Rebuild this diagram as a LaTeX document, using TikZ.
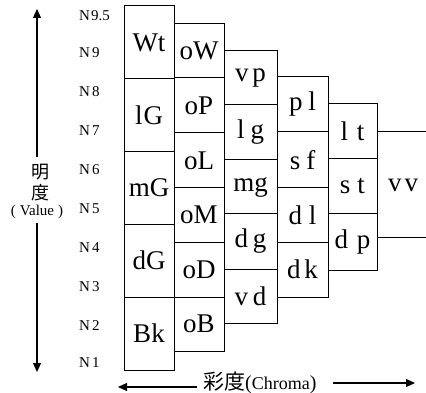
\documentclass[tikz,border=0pt]{standalone}
\usepackage{fontspec}
\setmainfont{Liberation Serif}
\newfontfamily\cjk{Noto Sans CJK JP}
\usetikzlibrary{arrows.meta}
\tikzset{
  cellbox/.style={draw, line width=1pt, inner sep=0pt, font=\fontsize{27}{27}\selectfont},
  nlab/.style={anchor=west, inner sep=0pt, font=\fontsize{15}{15}\selectfont},
  axis/.style={line width=1.1pt, -{Triangle[length=9pt,width=8pt]}},
  sep/.style={line width=1pt}
}
\newcommand\mycell[6]{%
  \node[cellbox, minimum width={(#3-#2)*1pt}, minimum height={(#5-#4)*1pt}] (#1) at ({(#2+#3)/2},{(#4+#5)/2}) {#6};}
\newcommand\gapp[1]{\hspace{#1pt}}
\begin{document}
\begin{tikzpicture}[x=1pt,y=-1pt]
\useasboundingbox (0,0) rectangle (426,393);
% column 1
\mycell{wt}{124}{174}{6}{79}{Wt}
\mycell{lG}{124}{174}{79}{152}{l\gapp{1}G}
\mycell{mG}{124}{174}{152}{224}{mG}
\mycell{dG}{124}{174}{224}{297}{dG}
\mycell{bk}{124}{174}{297}{370}{Bk}
% column 2
\mycell{oW}{174}{224}{24}{78}{oW}
\mycell{oP}{174}{224}{78}{133}{oP}
\mycell{oL}{174}{224}{133}{188}{oL}
\mycell{oM}{174}{224}{188}{242}{oM}
\mycell{oD}{174}{224}{242}{297}{oD}
\mycell{oB}{174}{224}{297}{351}{oB}
% column 3
\mycell{vp}{224}{277}{51}{105}{v\gapp{4}p}
\mycell{lg}{224}{277}{105}{160}{l\gapp{6}g}
\mycell{mg}{224}{277}{160}{214}{mg}
\mycell{dg}{224}{277}{214}{269}{d\gapp{5}g}
\mycell{vd}{224}{277}{269}{323}{v\gapp{5}d}
% column 4
\mycell{pl}{277}{328}{77}{132}{p\gapp{6}l}
\mycell{sf}{277}{328}{132}{188}{s\gapp{6}f}
\mycell{dl}{277}{328}{188}{242}{d\gapp{7}l}
\mycell{dk}{277}{328}{242}{297}{d\gapp{4}k}
% column 5
\mycell{lt}{328}{377}{104}{159}{l\gapp{9}t}
\mycell{st}{328}{377}{159}{214}{s\gapp{7}t}
\mycell{dp}{328}{377}{214}{270}{d\gapp{9}p}
% vv
\coordinate (v1) at (377,132);
\coordinate (v1e) at (426,132);
\coordinate (v2) at (377,237);
\coordinate (v2e) at (426,237);
\draw[sep] (v1) -- (v1e);
\draw[sep] (v2) -- (v2e);
\node[cellbox, draw=none] (vv) at (403,185) {v\gapp{3}v};
% N labels
\node[nlab] (n95) at (79,16) {N\gapp{1}9.5};
\node[nlab] (n9) at (79,53) {N\gapp{2}9};
\node[nlab] (n8) at (79,92) {N\gapp{2}8};
\node[nlab] (n7) at (79,131) {N\gapp{2}7};
\node[nlab] (n6) at (79,170) {N\gapp{2}6};
\node[nlab] (n5) at (79,209) {N\gapp{2}5};
\node[nlab] (n4) at (79,248) {N\gapp{2}4};
\node[nlab] (n3) at (79,287) {N\gapp{2}3};
\node[nlab] (n2) at (79,326) {N\gapp{2}2};
\node[nlab] (n1) at (79,363) {N\gapp{2}1};
% value axis
\node[inner sep=0pt, font=\cjk\fontsize{18}{18}\selectfont] (ming) at (40,172) {明};
\node[inner sep=0pt, font=\cjk\fontsize{18}{18}\selectfont] (du) at (40,193) {度};
\node[inner sep=0pt, font=\fontsize{15}{15}\selectfont] (value) at (37,212) {(\gapp{4}Value\gapp{4})};
\coordinate (vtop) at (37,9);
\coordinate (vtopS) at (37,157);
\coordinate (vbot) at (37,372);
\coordinate (vbotS) at (37,223);
\draw[axis] (vtopS) -- (vtop);
\draw[axis] (vbotS) -- (vbot);
% chroma axis
\node[inner sep=0pt, anchor=west, font=\fontsize{18}{18}\selectfont] (chroma) at (203,383) {{\cjk\fontsize{21}{21}\selectfont 彩度}{\fontsize{20}{20}\selectfont(}Chroma{\fontsize{20}{20}\selectfont)}};
\coordinate (cl) at (118,387);
\coordinate (clS) at (197,387);
\coordinate (cr) at (415,383);
\coordinate (crS) at (333,383);
\draw[axis] (clS) -- (cl);
\draw[axis] (crS) -- (cr);
\end{tikzpicture}
\end{document}
